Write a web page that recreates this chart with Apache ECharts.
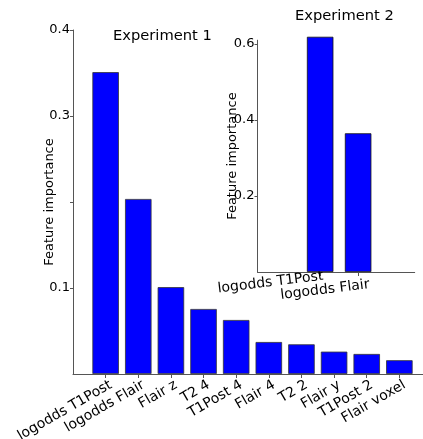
<!DOCTYPE html>
<html>
<head>
<meta charset="utf-8">
<script src="https://cdn.jsdelivr.net/npm/echarts@6/dist/echarts.min.js"></script>
<style>
html,body{margin:0;padding:0;background:#fff;}
#c{width:423px;height:439px;}
</style>
</head>
<body>
<div id="c"></div>
<script>
// Experiment 1
const categories1 = ['logodds T1Post','logodds Flair','Flair z','T2 4','T1Post 4','Flair 4','T2 2','Flair y','T1Post 2','Flair voxel'];
const values1 = [0.351, 0.2035, 0.101, 0.0756, 0.0628, 0.0372, 0.0345, 0.026, 0.0233, 0.016];
const yTicks1 = [0.1, 0.2, 0.3, 0.4];
const yLabels1 = [0.1, 0.3, 0.4];
// Experiment 2
const categories2 = ['logodds T1Post','logodds Flair'];
const values2 = [0.619, 0.365];
const yTicks2 = [0.2, 0.4, 0.6];
const yLabels2 = [0.2, 0.4, 0.6];

// style constants (label placement offsets, in axis units)
const FONT = 'DejaVu Sans';
const axisCol = '#555';
const mainLabelShift = 0.16;
const insetLabelShift = [0.08, 0.27];

const chart = echarts.init(document.getElementById('c'), null, {renderer:'canvas'});
chart.setOption({
  animation: false,
  backgroundColor: '#fff',
  textStyle: {fontFamily: FONT},
  title: [
    {text: 'Experiment 1', left: 113, top: 29, padding: 0,
     textStyle: {fontFamily: FONT, fontSize: 14.7, fontWeight: 'normal', color: '#000'}},
    {text: 'Experiment 2', left: 295, top: 9, padding: 0,
     textStyle: {fontFamily: FONT, fontSize: 14.7, fontWeight: 'normal', color: '#000'}}
  ],
  grid: [
    {left: 73, right: -9, top: 30, bottom: 65, containLabel: false, outerBoundsMode: 'none'},
    {left: 257.5, right: 8.3, top: 40.2, bottom: 167, containLabel: false, outerBoundsMode: 'none'}
  ],
  xAxis: [
    {gridIndex: 0, type: 'value', min: -1, max: categories1.length,
     splitLine: {show: false},
     axisLine: {show: true, onZero: false, lineStyle: {color: axisCol, width: 1}},
     axisTick: {show: true, length: 4, customValues: categories1.map((c, i) => i), lineStyle: {color: axisCol}},
     axisLabel: {customValues: categories1.map((c, i) => i + mainLabelShift),
       formatter: v => categories1[Math.round(v)] || '', hideOverlap: false,
       rotate: 30, margin: 10, fontSize: 14, fontFamily: FONT, color: '#000'}},
    {gridIndex: 1, type: 'value', min: -1.65, max: 2.49,
     splitLine: {show: false},
     axisLine: {show: true, onZero: false, lineStyle: {color: axisCol, width: 1}},
     axisTick: {show: true, length: 4, customValues: categories2.map((c, i) => i), lineStyle: {color: axisCol}},
     axisLabel: {customValues: categories2.map((c, i) => i + insetLabelShift[i]),
       formatter: v => { const i = Math.round(v); return i === 1 ? '{low|' + categories2[i] + '}' : '{n|' + categories2[i] + '}'; },
       rich: {n: {fontSize: 14, fontFamily: FONT, color: '#000'},
              low: {fontSize: 14, fontFamily: FONT, color: '#000', padding: [17, 0, 0, 0]}},
       hideOverlap: false,
       rotate: 7, margin: 4, fontSize: 14, fontFamily: FONT, color: '#000'}}
  ],
  yAxis: [
    {gridIndex: 0, type: 'value', min: 0, max: 0.4,
     name: 'Feature importance', nameLocation: 'middle', nameGap: 17, nameRotate: 90, nameMoveOverlap: false,
     nameTextStyle: {fontSize: 13, fontFamily: FONT, color: '#000'},
     splitLine: {show: false},
     axisLine: {show: true, onZero: false, lineStyle: {color: axisCol, width: 1}},
     axisTick: {show: true, length: 3, customValues: yTicks1, lineStyle: {color: axisCol}},
     axisLabel: {customValues: yLabels1, formatter: v => v.toFixed(1), margin: 3, fontSize: 13, fontFamily: FONT, color: '#000'}},
    {gridIndex: 1, type: 'value', min: 0, max: 0.61,
     name: 'Feature importance', nameLocation: 'middle', nameGap: 18, nameRotate: 90, nameMoveOverlap: false,
     nameTextStyle: {fontSize: 13, fontFamily: FONT, color: '#000'},
     splitLine: {show: false},
     axisLine: {show: true, onZero: false, lineStyle: {color: axisCol, width: 1}},
     axisTick: {show: true, length: 3, customValues: yTicks2, lineStyle: {color: axisCol}},
     axisLabel: {customValues: yLabels2, formatter: v => v.toFixed(1), margin: 3, fontSize: 13, fontFamily: FONT, color: '#000'}}
  ],
  series: [
    {type: 'bar', xAxisIndex: 0, yAxisIndex: 0, barWidth: 26.5, clip: false,
     data: values1.map((v, i) => [i, v]),
     itemStyle: {color: '#0000ff', borderColor: '#333', borderWidth: 0.8}},
    {type: 'bar', xAxisIndex: 1, yAxisIndex: 1, barWidth: 26.5, clip: false,
     data: values2.map((v, i) => [i, v]),
     itemStyle: {color: '#0000ff', borderColor: '#111', borderWidth: 0.8}}
  ]
});
</script>
</body>
</html>
